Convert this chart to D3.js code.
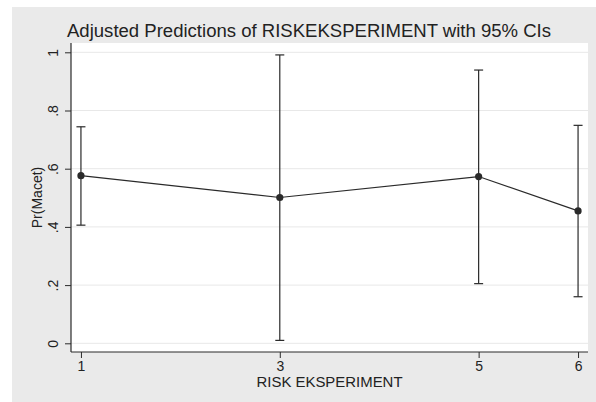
<!DOCTYPE html>
<html>
<head>
<meta charset="utf-8">
<script src="https://cdn.jsdelivr.net/npm/d3@7"></script>
<style>
  html, body { margin: 0; padding: 0; background: #ffffff; }
  svg { display: block; font-family: "Liberation Sans", Arial, sans-serif; }
</style>
</head>
<body>
<svg id="chart" width="596" height="402"></svg>
<script>
// Predicted probabilities with 95% confidence limits per RISK EKSPERIMENT level
const levels = [1, 3, 5, 6];
const predicted = [0.576, 0.501, 0.573, 0.455];
const lowerCI = [0.406, 0.010, 0.205, 0.160];
const upperCI = [0.744, 0.991, 0.939, 0.749];
const yTicks = [0, 0.2, 0.4, 0.6, 0.8, 1];
const yTickLabels = ["0", ".2", ".4", ".6", ".8", "1"];

const rows = levels.map((lv, i) => ({ x: lv, y: predicted[i], lo: lowerCI[i], hi: upperCI[i] }));

const svg = d3.select("#chart");
const W = 596, H = 402;
const plot = { left: 71, right: 588, top: 43, bottom: 352 };

// graph region background
svg.append("rect").attr("x", 12).attr("y", 7).attr("width", W - 12).attr("height", H - 7)
  .attr("fill", "#eaeaea");
// plot region
svg.append("rect").attr("x", plot.left).attr("y", plot.top)
  .attr("width", plot.right - plot.left).attr("height", plot.bottom - plot.top)
  .attr("fill", "#ffffff");

const x = d3.scaleLinear().domain([0.9, 6.1]).range([plot.left, plot.right]);
const y = d3.scaleLinear().domain([0, 1]).range([343.3, 52.3]);

const ink = "#2a2a2a";

// horizontal grid lines
svg.append("g").selectAll("line").data(yTicks).join("line")
  .attr("x1", plot.left).attr("x2", plot.right)
  .attr("y1", d => y(d)).attr("y2", d => y(d))
  .attr("stroke", "#e8e8e8").attr("stroke-width", 1);

// y axis with labels rotated to read upward
const yAxis = d3.axisLeft(y).tickValues(yTicks)
  .tickFormat((d, i) => yTickLabels[i]).tickSize(6).tickPadding(4);
const gy = svg.append("g").attr("transform", `translate(${plot.left},0)`).call(yAxis);
gy.select(".domain").attr("d", `M0,${plot.top}V${plot.bottom}`).attr("stroke", ink).attr("stroke-width", 1.2);
gy.selectAll(".tick line").attr("stroke", ink);
gy.selectAll(".tick text")
  .attr("x", null)
  .attr("text-anchor", "middle")
  .attr("font-size", 14).attr("fill", "#222")
  .attr("transform", "translate(-18,0) rotate(-90)")
  .attr("dy", "0.35em");

// x axis
const xAxis = d3.axisBottom(x).tickValues(levels).tickFormat(d3.format("d")).tickSize(6).tickPadding(3);
const gx = svg.append("g").attr("transform", `translate(0,${plot.bottom})`).call(xAxis);
gx.select(".domain").attr("d", `M${plot.left},0H${plot.right}`).attr("stroke", ink).attr("stroke-width", 1.2);
gx.selectAll(".tick line").attr("stroke", ink);
gx.selectAll(".tick text").attr("font-size", 14).attr("fill", "#222");
svg.selectAll(".domain").attr("fill", "none");

// confidence intervals
const ci = svg.append("g").attr("stroke", ink).attr("stroke-width", 1.2).attr("fill", "none");
ci.selectAll("line.v").data(rows).join("line").attr("class", "v")
  .attr("x1", d => x(d.x)).attr("x2", d => x(d.x))
  .attr("y1", d => y(d.lo)).attr("y2", d => y(d.hi));
ci.selectAll("line.hi").data(rows).join("line").attr("class", "hi")
  .attr("x1", d => x(d.x) - 4.5).attr("x2", d => x(d.x) + 4.5)
  .attr("y1", d => y(d.hi)).attr("y2", d => y(d.hi));
ci.selectAll("line.lo").data(rows).join("line").attr("class", "lo")
  .attr("x1", d => x(d.x) - 4.5).attr("x2", d => x(d.x) + 4.5)
  .attr("y1", d => y(d.lo)).attr("y2", d => y(d.lo));

// connecting line and markers
svg.append("path").datum(rows)
  .attr("d", d3.line().x(d => x(d.x)).y(d => y(d.y)))
  .attr("fill", "none").attr("stroke", ink).attr("stroke-width", 1.2);
svg.append("g").selectAll("circle").data(rows).join("circle")
  .attr("cx", d => x(d.x)).attr("cy", d => y(d.y)).attr("r", 3.6)
  .attr("fill", ink);

// titles
svg.append("text").attr("x", 309).attr("y", 37).attr("text-anchor", "middle")
  .attr("font-size", 17.5).attr("fill", "#222")
  .attr("textLength", 484).attr("lengthAdjust", "spacingAndGlyphs")
  .text("Adjusted Predictions of RISKEKSPERIMENT with 95% CIs");
svg.append("text").attr("x", (plot.left + plot.right) / 2).attr("y", 387).attr("text-anchor", "middle")
  .attr("font-size", 14).attr("fill", "#222")
  .attr("textLength", 146).attr("lengthAdjust", "spacingAndGlyphs")
  .text("RISK EKSPERIMENT");
svg.append("text").attr("transform", `translate(42,${(plot.top + plot.bottom) / 2}) rotate(-90)`)
  .attr("text-anchor", "middle").attr("font-size", 14).attr("fill", "#222")
  .text("Pr(Macet)");
</script>
</body>
</html>
